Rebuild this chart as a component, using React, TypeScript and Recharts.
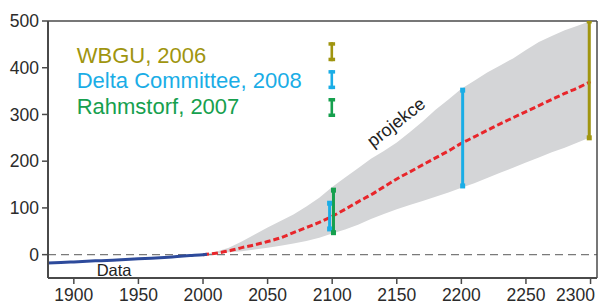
import React from 'react';
import { ComposedChart, Area, Line, XAxis, YAxis, ReferenceLine } from 'recharts';

// measured record (cm, relative to 2000)
const histYears = [1880, 1890, 1900, 1910, 1920, 1930, 1940, 1950, 1960, 1970, 1980, 1990, 2000, 2003];
const histLevel = [-18, -17, -15.5, -14, -13, -12, -10.5, -9, -7.5, -6, -4, -2, 0, 0.8];

// projection band + median
const projYears = [
  2000, 2010, 2020, 2030, 2040, 2050, 2060, 2070, 2080, 2090, 2100, 2110, 2120, 2130, 2140, 2150,
  2160, 2170, 2180, 2190, 2200, 2210, 2220, 2230, 2240, 2250, 2260, 2270, 2280, 2290, 2300,
];
const projLow = [
  0, 2, 5, 7, 11, 15, 19, 24, 29, 36, 45, 54, 64, 76, 87, 97,
  106, 115, 124, 133, 143, 153, 164, 175, 186, 197, 208, 219, 229, 240, 251,
];
const projMid = [
  0, 3, 8, 15, 21, 28, 36, 47, 58, 69, 82, 97, 113, 128, 145, 162,
  177, 192, 207, 222, 238, 252, 266, 280, 293, 306, 319, 332, 345, 357, 370,
];
const projHigh = [
  0, 6, 15, 28, 43, 58, 72, 86, 103, 122, 145, 165, 185, 205, 222, 240,
  262, 285, 310, 332, 355, 372, 390, 405, 420, 438, 455, 468, 480, 490, 500,
];

// published ranges
const rangeNames = ['Delta Committee, 2008', 'Rahmstorf, 2007', 'Delta Committee, 2008', 'WBGU, 2006'];
const rangeYears = [2098, 2101, 2201, 2299];
const rangeLow = [55, 47, 147, 250];
const rangeHigh = [110, 138, 352, 500];

const legendNames = ['WBGU, 2006', 'Delta Committee, 2008', 'Rahmstorf, 2007'];

const xTicks = [1900, 1950, 2000, 2050, 2100, 2150, 2200, 2250, 2300];
const yTicks = [0, 100, 200, 300, 400, 500];

const colors: Record<string, string> = {
  'WBGU, 2006': '#A0950F',
  'Delta Committee, 2008': '#1AADE6',
  'Rahmstorf, 2007': '#16A04E',
};

const FONT = "'Liberation Sans', Arial, Helvetica, sans-serif";
const AXIS = '#4a4a4a';

const projData = projYears.map((year, i) => ({
  year,
  band: [projLow[i], projHigh[i]],
  mid: projMid[i],
}));
const histData = histYears.map((year, i) => ({ year, level: histLevel[i] }));
const rangeData = rangeNames.map((name, i) => ({
  name,
  points: [
    { year: rangeYears[i], v: rangeLow[i] },
    { year: rangeYears[i], v: rangeHigh[i] },
  ],
}));

const squareCap = (color: string) => (p: any) => (
  <rect key={p.index} x={p.cx - 2.5} y={p.cy - 2.5} width={5} height={5} fill={color} />
);

const tickStyle = { fill: '#2b2b2b', fontSize: 17.5, fontFamily: FONT };

// last year label is pushed left so it stays inside the frame
const XTick = (props: any) => {
  const { x, y, payload, index } = props;
  const last = index === xTicks.length - 1;
  return (
    <text
      x={last ? x + 6 : x}
      y={y}
      dy="0.71em"
      textAnchor={last ? 'end' : 'middle'}
      fill={tickStyle.fill}
      fontSize={tickStyle.fontSize}
      fontFamily={FONT}
    >
      {payload.value}
    </text>
  );
};

export default function App() {
  return (
    <div style={{ position: 'absolute', left: 0, top: 0, width: 605, height: 304, background: '#fff' }}>
      <ComposedChart
        width={605}
        height={304}
        data={projData}
        margin={{ top: 21, right: 8, bottom: 0, left: 0 }}
      >
        <XAxis
          dataKey="year"
          type="number"
          domain={[1880, 2305]}
          ticks={xTicks}
          height={26}
          tickSize={6}
          tickMargin={5}
          tick={<XTick />}
          axisLine={{ stroke: AXIS, strokeWidth: 2 }}
          tickLine={{ stroke: AXIS, strokeWidth: 1.5 }}
        />
        <YAxis
          type="number"
          domain={[-50, 500]}
          ticks={yTicks}
          width={48}
          tickSize={6}
          tickMargin={3}
          tick={tickStyle}
          axisLine={{ stroke: AXIS, strokeWidth: 2 }}
          tickLine={{ stroke: AXIS, strokeWidth: 1.5 }}
          allowDataOverflow
        />
        <Area
          dataKey="band"
          stroke="none"
          fill="#D4D5D7"
          fillOpacity={1}
          isAnimationActive={false}
          activeDot={false}
        />
        <ReferenceLine y={0} stroke="#7a7a7a" strokeWidth={1.2} strokeDasharray="8 5" />
        <ReferenceLine y={500} stroke={AXIS} strokeWidth={1.5} />
        <ReferenceLine x={2305} stroke={AXIS} strokeWidth={1.5} />
        <Line
          dataKey="mid"
          stroke="#E8262B"
          strokeWidth={3}
          strokeDasharray="6 3"
          dot={false}
          activeDot={false}
          isAnimationActive={false}
          type="monotone"
        />
        <Line
          data={histData}
          dataKey="level"
          stroke="#2D4A9B"
          strokeWidth={3}
          dot={false}
          activeDot={false}
          isAnimationActive={false}
          type="monotone"
        />
        {rangeData.map((r, i) => (
          <Line
            key={i}
            data={r.points}
            dataKey="v"
            stroke={colors[r.name]}
            strokeWidth={3}
            dot={squareCap(colors[r.name])}
            activeDot={false}
            isAnimationActive={false}
          />
        ))}
      </ComposedChart>
      <svg
        width={605}
        height={304}
        style={{ position: 'absolute', left: 0, top: 0, pointerEvents: 'none' }}
        fontFamily={FONT}
      >
        {legendNames.map((name, i) => {
          const c = colors[name];
          const cy = 51.7 + i * 27.9;
          return (
            <g key={name}>
              <text x={76.7} y={63 + i * 25.3} fontSize={22} fill={c}>
                {name}
              </text>
              <rect x={330.5} y={cy - 9.5} width={2.6} height={19} fill={c} />
              <rect x={328.5} y={cy - 9.5} width={6.6} height={3.5} fill={c} />
              <rect x={328.5} y={cy + 6} width={6.6} height={3.5} fill={c} />
            </g>
          );
        })}
        <text x={96.7} y={276} fontSize={16.5} fill="#222">
          Data
        </text>
        <text x={373} y={148} fontSize={18} fill="#222" transform="rotate(-38 373 148)">
          projekce
        </text>
      </svg>
    </div>
  );
}
